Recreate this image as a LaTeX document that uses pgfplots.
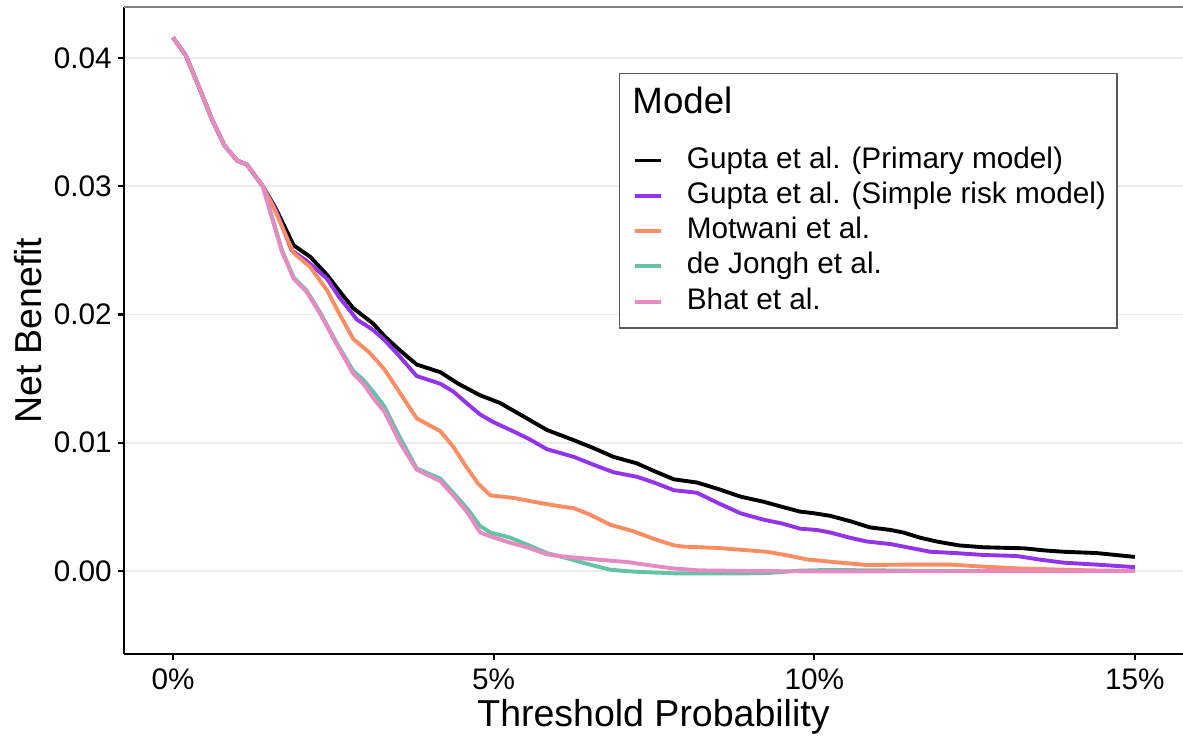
\documentclass[border=0pt]{standalone}
\usepackage{pgfplots}
\pgfplotsset{compat=1.18}
\usepackage{pgfplotstable}
\usepackage{fontspec}
\setmainfont{Liberation Sans}

\definecolor{cPrimary}{RGB}{0,0,0}
\definecolor{cSimple}{RGB}{147,51,234}
\definecolor{cMotwani}{RGB}{252,141,98}
\definecolor{cJongh}{RGB}{102,194,165}
\definecolor{cBhat}{RGB}{231,138,195}
\definecolor{gridgray}{RGB}{235,235,235}

% threshold (%) and net benefit
\pgfplotstableread{
x y
0 0.0416
0.2 0.0402
0.4 0.0378
0.6 0.0353
0.8 0.0332
1.0 0.0320
1.15 0.0317
1.4 0.0300
1.6 0.0283
1.88 0.0254
2.14 0.0245
2.40 0.0231
2.6 0.0218
2.81 0.0205
3.12 0.0193
3.3 0.0183
3.54 0.0172
3.80 0.0161
4.17 0.0155
4.45 0.0146
4.79 0.0137
5.10 0.0131
5.45 0.0121
5.83 0.0110
6.25 0.0102
6.55 0.0096
6.87 0.0089
7.23 0.0084
7.5 0.0078
7.81 0.00715
8.17 0.0069
8.5 0.0064
8.85 0.0058
9.21 0.0054
9.5 0.0050
9.78 0.00463
10.0 0.0045
10.25 0.0043
10.55 0.0039
10.87 0.0034
11.19 0.0032
11.39 0.0030
11.65 0.0026
11.91 0.0023
12.25 0.0020
12.64 0.00185
13.27 0.00177
13.6 0.0016
13.89 0.0015
14.4 0.0014
15.0 0.0011
}\primary

\pgfplotstableread{
x y
0 0.0416
0.2 0.0402
0.4 0.0378
0.6 0.0353
0.8 0.0332
1.0 0.0320
1.15 0.0317
1.4 0.0300
1.6 0.0282
1.85 0.0250
2.08 0.0242
2.40 0.0228
2.6 0.0213
2.87 0.0196
3.12 0.0188
3.3 0.0180
3.54 0.0167
3.80 0.0152
4.17 0.0146
4.37 0.0140
4.6 0.0130
4.79 0.0122
5.0 0.0116
5.26 0.0110
5.55 0.0103
5.83 0.0095
6.25 0.0089
6.55 0.0083
6.87 0.0077
7.23 0.00735
7.5 0.0069
7.81 0.0063
8.17 0.0061
8.5 0.0053
8.85 0.0045
9.21 0.0040
9.5 0.0037
9.78 0.0033
10.04 0.0032
10.25 0.0030
10.55 0.0026
10.82 0.0023
11.19 0.0021
11.5 0.0018
11.81 0.0015
12.2 0.0014
12.64 0.00125
13.16 0.00117
13.5 0.0009
13.89 0.00065
14.4 0.0005
15.0 0.0003
}\simple

\pgfplotstableread{
x y
0 0.0416
0.2 0.0402
0.4 0.0378
0.6 0.0353
0.8 0.0332
1.0 0.0320
1.15 0.0317
1.4 0.0300
1.6 0.0280
1.88 0.0248
2.14 0.0237
2.40 0.0219
2.6 0.0200
2.81 0.0181
3.07 0.0170
3.3 0.0157
3.59 0.0135
3.80 0.0119
4.17 0.0109
4.37 0.0097
4.55 0.0083
4.76 0.0068
4.95 0.0059
5.31 0.0057
5.73 0.0053
6.09 0.0050
6.25 0.0049
6.5 0.0044
6.82 0.0036
7.18 0.0031
7.5 0.0025
7.81 0.0020
7.96 0.0019
8.48 0.0018
9.0 0.0016
9.26 0.0015
9.6 0.0012
9.89 0.0009
10.3 0.0007
10.82 0.00047
11.5 0.0005
12.12 0.0005
12.64 0.00034
13.2 0.0002
13.68 0.00013
14.3 0.00005
15.0 0.0
}\motwani

\pgfplotstableread{
x y
0 0.0416
0.2 0.0402
0.4 0.0378
0.6 0.0353
0.8 0.0332
1.0 0.0320
1.15 0.0317
1.4 0.0300
1.51 0.0282
1.7 0.0250
1.88 0.0229
2.08 0.0219
2.29 0.0202
2.55 0.0178
2.81 0.0156
2.97 0.0149
3.12 0.0140
3.3 0.0128
3.54 0.0104
3.80 0.0080
4.17 0.0072
4.37 0.0061
4.6 0.0048
4.79 0.0035
4.95 0.0030
5.26 0.0026
5.55 0.0020
5.83 0.0014
6.14 0.0010
6.5 0.0005
6.82 0.0001
7.18 -0.00005
7.81 -0.00018
8.5 -0.00018
9.0 -0.00018
9.3 -0.00015
9.78 0.00003
10.2 0.00008
11.0 0.00005
12.0 0.0
15.0 0.0
}\jongh

\pgfplotstableread{
x y
0 0.0416
0.2 0.0402
0.4 0.0378
0.6 0.0353
0.8 0.0332
1.0 0.0320
1.15 0.0317
1.4 0.0300
1.51 0.0281
1.7 0.0249
1.88 0.0228
2.08 0.0218
2.29 0.0201
2.55 0.0177
2.81 0.0154
2.97 0.0146
3.12 0.0135
3.3 0.0124
3.54 0.0100
3.80 0.0079
4.17 0.0070
4.37 0.0059
4.6 0.0045
4.79 0.0030
4.95 0.0027
5.26 0.0022
5.55 0.0018
5.83 0.0013
6.14 0.0011
6.6 0.0009
7.08 0.0007
7.5 0.0004
7.81 0.0002
8.2 0.00005
9.0 0.0
10.0 -0.00003
15.0 0.0
}\bhat

\begin{document}
\begin{tikzpicture}
\begin{axis}[
  scale only axis,
  width=381.2pt, height=232.9pt,
  xmin=-0.764, xmax=15.75,
  ymin=-0.00647, ymax=0.04398,
  axis lines=left,
  axis line style={line width=0.8pt, black, -},
  xtick={0,5,10,15},
  xticklabels={0\%,5\%,10\%,15\%},
  ytick={0,0.01,0.02,0.03,0.04},
  yticklabels={0.00,0.01,0.02,0.03,0.04},
  scaled y ticks=false,
  tick align=outside,
  major tick length=2.2pt,
  tick style={line width=0.8pt, black},
  ymajorgrids,
  grid style={line width=0.7pt, gridgray},
  tick label style={font=\fontsize{10.7}{12}\selectfont, inner sep=0pt},
  xticklabel style={yshift=-3pt},
  yticklabel style={xshift=-2pt},
  xlabel={Threshold Probability},
  ylabel={Net Benefit},
  label style={font=\fontsize{13.5}{15}\selectfont, inner sep=0pt},
  xlabel shift=3pt,
  ylabel shift=4.3pt,
  legend cell align=left,
  legend style={
    at={(rel axis cs:0.4674,0.898)}, anchor=north west,
    draw={rgb,255:red,90;green,90;blue,90}, line width=0.5pt,
    inner xsep=4pt, inner ysep=4.6pt,
    row sep=2.8pt,
    font=\fontsize{10.7}{12}\selectfont,
    nodes={inner sep=0pt, text height=7.7pt, text depth=2.2pt},
  },
  legend image code/.code={\draw[#1, line width=1.4pt] (1.5pt,0pt) -- (10.9pt,0pt);},
  every axis plot/.append style={line width=1.4pt, line join=round},
]
\addlegendimage{empty legend}
\addlegendentry[text depth=9.3pt, text height=9.6pt]{\hspace*{-11pt}\fontsize{13.2}{15}\selectfont Model}

\addplot[cPrimary] table[x=x,y=y] {\primary};
\addlegendentry{\hspace*{8.6pt}Gupta et al. (Primary model)}
\addplot[cSimple] table[x=x,y=y] {\simple};
\addlegendentry{\hspace*{8.6pt}Gupta et al. (Simple risk model)}
\addplot[cMotwani] table[x=x,y=y] {\motwani};
\addlegendentry{\hspace*{8.6pt}Motwani et al.}
\addplot[cJongh] table[x=x,y=y] {\jongh};
\addlegendentry{\hspace*{8.6pt}de Jongh et al.}
\addplot[cBhat] table[x=x,y=y] {\bhat};
\addlegendentry{\hspace*{8.6pt}Bhat et al.}

\draw[line width=0.5pt, gray] (rel axis cs:0,1) -- (rel axis cs:1,1);
\coordinate (bl) at (rel axis cs:0,0);
\coordinate (tr) at (rel axis cs:1,1);
\end{axis}
\pgfresetboundingbox
\path[use as bounding box] ([shift={(-44.64pt,-30.24pt)}]bl) rectangle ([shift={(0pt,2.52pt)}]tr);
\end{tikzpicture}
\end{document}
